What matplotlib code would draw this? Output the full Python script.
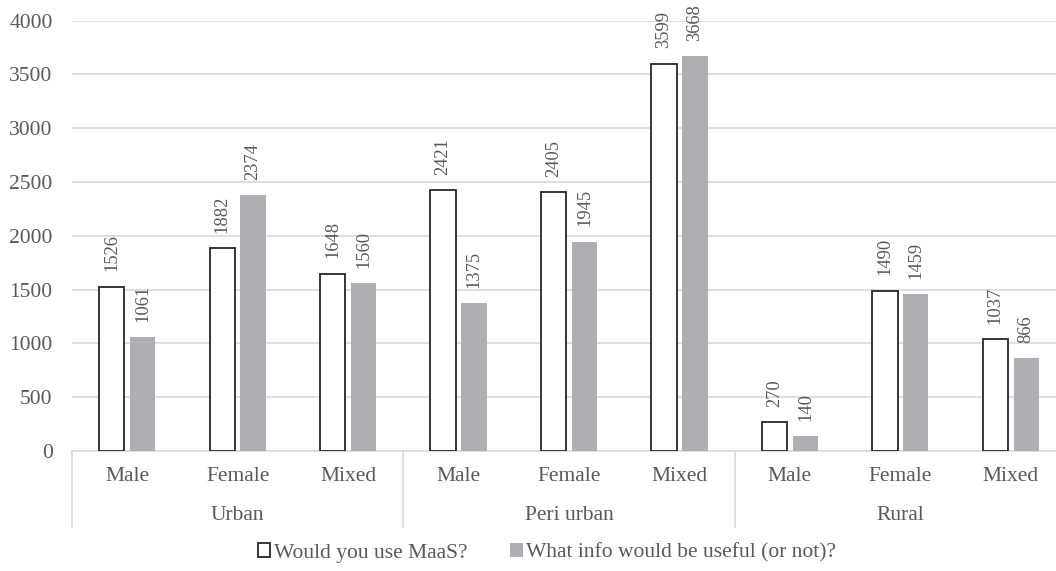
import matplotlib.pyplot as plt
import numpy as np

plt.rcParams['font.family'] = ['Liberation Serif', 'DejaVu Serif']

areas = ["Urban", "Peri urban", "Rural"]
genders = ["Male", "Female", "Mixed"]
use_maas = [1526, 1882, 1648, 2421, 2405, 3599, 270, 1490, 1037]
info_useful = [1061, 2374, 1560, 1375, 1945, 3668, 140, 1459, 866]
series_names = ["Would you use MaaS?", "What info would be useful (or not)?"]

text_col = "#595959"
grey_bar = "#AEAFB2"
fs = 15.5

fig = plt.figure(figsize=(10.56, 5.71), dpi=100)
# right edge sits past the figure, the reference is cropped there
ax = fig.add_axes([72 / 1056, 1 - 451 / 571, 994 / 1056, 430.5 / 571])

x = np.arange(len(use_maas))
w = 0.23
off = 0.14
b1 = ax.bar(x - off, use_maas, w, color="white", edgecolor="#262626", linewidth=1.3,
            label=series_names[0], zorder=3)
b2 = ax.bar(x + off, info_useful, w, color=grey_bar, label=series_names[1], zorder=3)

for bars in (b1, b2):
    for r in bars:
        ax.annotate(f"{int(r.get_height())}", (r.get_x() + r.get_width() / 2, r.get_height()),
                    xytext=(0, 11), textcoords="offset points", rotation=90,
                    ha="center", va="bottom", fontsize=13.3, color=text_col)

ax.set_xlim(-0.5, len(x) - 0.5)
ax.set_ylim(0, 4000)
ax.set_yticks(np.arange(0, 4001, 500))
ax.grid(axis="y", color="#D9D9D9", linewidth=1.2, zorder=0)
ax.tick_params(axis="y", length=0, pad=14, labelsize=fs, labelcolor=text_col)
ax.tick_params(axis="x", length=0)
ax.set_xticks([])
for s in ["top", "right", "left"]:
    ax.spines[s].set_visible(False)
ax.spines["bottom"].set_color("#D9D9D9")
ax.spines["bottom"].set_linewidth(1.2)

trans = ax.get_xaxis_transform()
for i, g in enumerate(genders * len(areas)):
    ax.text(i, -0.06, g, transform=trans, ha="center", va="center", fontsize=fs, color=text_col)
for j, a in enumerate(areas):
    ax.text(j * 3 + 1, -0.149, a, transform=trans, ha="center", va="center", fontsize=fs,
            color=text_col)
for k in range(len(areas) + 1):
    ax.plot([k * 3 - 0.5] * 2, [0, -0.177], transform=trans, color="#D9D9D9", linewidth=1.2,
            clip_on=False)

fig.legend(handles=[b1, b2], loc="center", bbox_to_anchor=(547 / 1056, 1 - 553 / 571), ncol=2,
           frameon=False, fontsize=fs, labelcolor=text_col, handlelength=0.6, handleheight=0.6,
           handletextpad=0.15, columnspacing=2.0)

fig.savefig("out.png", dpi=100)
